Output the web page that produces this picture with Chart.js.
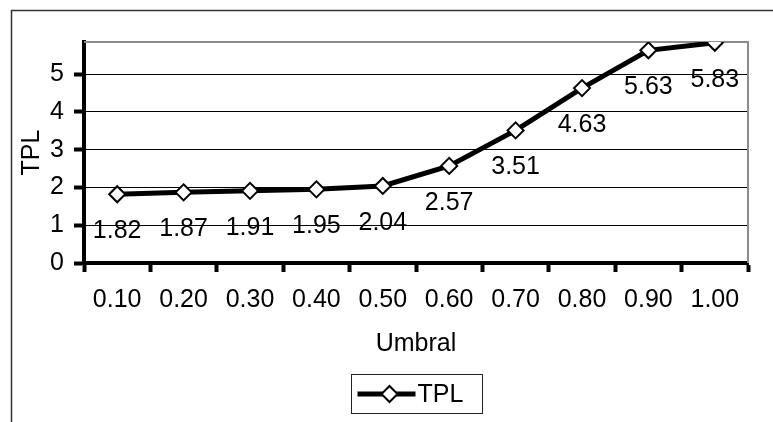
<!DOCTYPE html>
<html lang="es">
<head>
<meta charset="UTF-8">
<title>TPL vs Umbral</title>
<style>
  html, body { margin: 0; padding: 0; background: #fff; }
  #wrap { width: 773px; height: 422px; }
</style>
</head>
<body>
<div id="wrap"><canvas id="tplChart" width="773" height="422"></canvas></div>

<script src="https://cdn.jsdelivr.net/npm/chart.js"></script>
<script>
  // data
  const umbral = ['0.10', '0.20', '0.30', '0.40', '0.50', '0.60', '0.70', '0.80', '0.90', '1.00'];
  const tpl = [1.82, 1.87, 1.91, 1.95, 2.04, 2.57, 3.51, 4.63, 5.63, 5.83];
  const yTicks = [0, 1, 2, 3, 4, 5];

  const FONT = '"Liberation Sans", Arial, sans-serif';
  Chart.defaults.font.family = FONT;
  Chart.defaults.font.size = 25;
  Chart.defaults.color = '#000';

  // outer frame + grey plot border on top/right
  const frame = {
    id: 'frame',
    beforeDraw(chart) {
      const c = chart.ctx;
      c.save();
      c.strokeStyle = '#333';
      c.lineWidth = 1.5;
      c.beginPath();
      c.moveTo(11.5, chart.height);
      c.lineTo(11.5, 10.5);
      c.lineTo(chart.width, 10.5);
      c.stroke();
      c.restore();
    },
    beforeDatasetsDraw(chart) {
      const a = chart.chartArea, c = chart.ctx;
      c.save();
      c.strokeStyle = '#8c8c8c';
      c.lineWidth = 2;
      c.beginPath();
      c.moveTo(a.left, a.top);
      c.lineTo(a.right, a.top);
      c.lineTo(a.right, a.bottom);
      c.stroke();
      c.restore();
    }
  };

  // value labels under each point
  const valueLabels = {
    id: 'valueLabels',
    afterDatasetsDraw(chart) {
      const c = chart.ctx;
      const meta = chart.getDatasetMeta(0);
      c.save();
      c.font = '25px ' + FONT;
      c.fillStyle = '#000';
      c.textAlign = 'center';
      c.textBaseline = 'middle';
      meta.data.forEach((pt, i) => {
        c.fillText(tpl[i].toFixed(2), pt.x, pt.y + 37);
      });
      c.restore();
    }
  };

  // boxed legend with line + diamond sample
  const boxLegend = {
    id: 'boxLegend',
    afterDraw(chart) {
      const a = chart.chartArea, c = chart.ctx;
      const w = 131, h = 39;
      const left = Math.round((a.left + a.right) / 2 - w / 2) + 0.5;
      const top = chart.height - 48 + 0.5;
      const cy = top + h / 2;
      c.save();
      c.strokeStyle = '#222';
      c.lineWidth = 1;
      c.strokeRect(left, top, w, h);
      c.strokeStyle = '#000';
      c.lineWidth = 5;
      c.beginPath();
      c.moveTo(left + 6, cy);
      c.lineTo(left + 64, cy);
      c.stroke();
      c.fillStyle = '#fff';
      c.lineWidth = 2;
      const r = 8;
      const dx = left + 38;
      c.beginPath();
      c.moveTo(dx, cy - r);
      c.lineTo(dx + r, cy);
      c.lineTo(dx, cy + r);
      c.lineTo(dx - r, cy);
      c.closePath();
      c.fill();
      c.stroke();
      c.fillStyle = '#000';
      c.font = '25px ' + FONT;
      c.textAlign = 'left';
      c.textBaseline = 'middle';
      c.fillText(chart.data.datasets[0].label, left + 66, cy + 1);
      c.restore();
    }
  };

  new Chart(document.getElementById('tplChart'), {
    type: 'line',
    data: {
      labels: umbral,
      datasets: [{
        label: 'TPL',
        data: tpl,
        borderColor: '#000',
        borderWidth: 5,
        tension: 0,
        pointStyle: 'rectRot',
        pointRadius: 8,
        pointHoverRadius: 8,
        pointBackgroundColor: '#fff',
        pointBorderColor: '#000',
        pointBorderWidth: 2
      }]
    },
    options: {
      responsive: false,
      animation: false,
      devicePixelRatio: 1,
      layout: { padding: { left: 14, top: 42, right: 25, bottom: 63 } },
      plugins: {
        legend: { display: false },
        tooltip: { enabled: false }
      },
      scales: {
        x: {
          offset: true,
          grid: {
            offset: true,
            drawOnChartArea: false,
            tickLength: 9,
            tickWidth: 4,
            tickColor: '#000'
          },
          border: { color: '#000', width: 4 },
          ticks: { padding: 13, maxRotation: 0, autoSkip: false },
          title: { display: true, text: 'Umbral', padding: 0 },
          afterFit(scale) { scale.height = 96; }
        },
        y: {
          min: 0,
          max: 5.85,
          afterBuildTicks(scale) {
            scale.ticks = yTicks.map(v => ({ value: v }));
          },
          grid: {
            color: '#000',
            lineWidth: 1,
            tickLength: 10,
            tickWidth: 4,
            tickColor: '#000'
          },
          border: { color: '#000', width: 4 },
          ticks: { padding: 10 },
          title: { display: true, text: 'TPL', padding: { top: 3, bottom: 0 } },
          afterFit(scale) { scale.width = 70; }
        }
      }
    },
    plugins: [frame, valueLabels, boxLegend]
  });
</script>
</body>
</html>
